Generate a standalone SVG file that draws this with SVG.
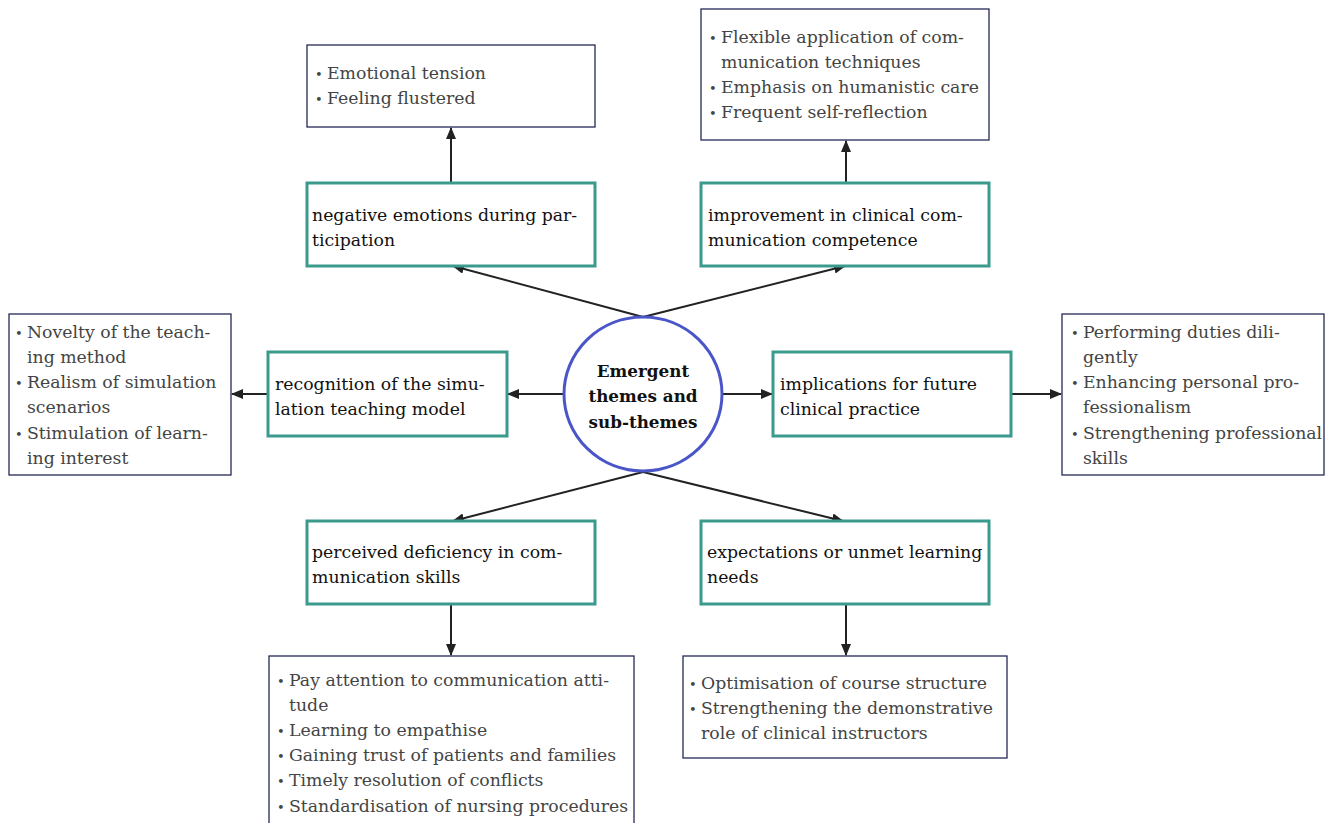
<svg xmlns="http://www.w3.org/2000/svg" width="1328" height="823" viewBox="0 0 1328 823">
<style>
.theme{fill:#fff;stroke:#3a9a8c;stroke-width:3}
.sub{fill:#fff;stroke:#262a55;stroke-width:1.3}
.tt{font-family:"DejaVu Serif","Liberation Serif",serif;font-size:17.3px;fill:#111}
.st{font-family:"DejaVu Serif","Liberation Serif",serif;font-size:17.3px;fill:#444}
.bu{font-size:13px}
.ct{font-family:"DejaVu Serif","Liberation Serif",serif;font-size:16.8px;font-weight:bold;fill:#111;text-anchor:middle}
.ln{stroke:#222;stroke-width:2;fill:none;marker-end:url(#ah)}
</style>
<defs>
<marker id="ah" markerUnits="userSpaceOnUse" markerWidth="12" markerHeight="10" refX="11" refY="5" orient="auto">
<path d="M0,0 L12,5 L0,10 z" fill="#222"/>
</marker>
</defs>
<rect width="1328" height="823" fill="#fff"/>
<g id="connectors">
<line class="ln" x1="643" y1="317" x2="453" y2="266"/>
<line class="ln" x1="643" y1="317" x2="845" y2="266"/>
<line class="ln" x1="564" y1="394" x2="508" y2="394"/>
<line class="ln" x1="722" y1="394" x2="772" y2="394"/>
<line class="ln" x1="643" y1="472" x2="453" y2="521"/>
<line class="ln" x1="643" y1="472" x2="843" y2="521"/>
<line class="ln" x1="451" y1="183" x2="451" y2="128"/>
<line class="ln" x1="846" y1="183" x2="846" y2="141"/>
<line class="ln" x1="268" y1="394" x2="232" y2="394"/>
<line class="ln" x1="1011" y1="394" x2="1061" y2="394"/>
<line class="ln" x1="451" y1="604" x2="451" y2="655"/>
<line class="ln" x1="846" y1="604" x2="846" y2="655"/>
</g>
<g id="center">
<ellipse cx="643" cy="394" rx="79" ry="77" fill="#fff" stroke="#4a56c8" stroke-width="3"/>
<text class="ct" x="643" y="377">Emergent</text>
<text class="ct" x="643" y="402">themes and</text>
<text class="ct" x="643" y="428">sub-themes</text>
</g>
<g id="theme-negative">
<rect class="theme" x="307" y="183" width="288" height="83"/>
<text class="tt" x="312" y="221">negative emotions during par-</text>
<text class="tt" x="312" y="246">ticipation</text>
</g>
<g id="theme-improvement">
<rect class="theme" x="701" y="183" width="288" height="83"/>
<text class="tt" x="708" y="221">improvement in clinical com-</text>
<text class="tt" x="708" y="246">munication competence</text>
</g>
<g id="theme-recognition">
<rect class="theme" x="268" y="352" width="239" height="84"/>
<text class="tt" x="275" y="390">recognition of the simu-</text>
<text class="tt" x="275" y="415">lation teaching model</text>
</g>
<g id="theme-implications">
<rect class="theme" x="773" y="352" width="238" height="84"/>
<text class="tt" x="780" y="390">implications for future</text>
<text class="tt" x="780" y="415">clinical practice</text>
</g>
<g id="theme-deficiency">
<rect class="theme" x="307" y="521" width="288" height="83"/>
<text class="tt" x="312" y="558">perceived deficiency in com-</text>
<text class="tt" x="312" y="583">munication skills</text>
</g>
<g id="theme-expectations">
<rect class="theme" x="701" y="521" width="288" height="83"/>
<text class="tt" x="707" y="558">expectations or unmet learning</text>
<text class="tt" x="707" y="583">needs</text>
</g>
<g id="sub-negative">
<rect class="sub" x="307" y="45" width="288" height="82"/>
<text class="st" x="315" y="79"><tspan class="bu">•</tspan><tspan x="327">Emotional tension</tspan></text>
<text class="st" x="315" y="104"><tspan class="bu">•</tspan><tspan x="327">Feeling flustered</tspan></text>
</g>
<g id="sub-improvement">
<rect class="sub" x="701" y="9" width="288" height="131"/>
<text class="st" x="709" y="43"><tspan class="bu">•</tspan><tspan x="721">Flexible application of com-</tspan></text>
<text class="st" x="721" y="68">munication techniques</text>
<text class="st" x="709" y="93"><tspan class="bu">•</tspan><tspan x="721">Emphasis on humanistic care</tspan></text>
<text class="st" x="709" y="118"><tspan class="bu">•</tspan><tspan x="721">Frequent self-reflection</tspan></text>
</g>
<g id="sub-recognition">
<rect class="sub" x="9" y="314" width="222" height="161"/>
<text class="st" x="15" y="338"><tspan class="bu">•</tspan><tspan x="27">Novelty of the teach-</tspan></text>
<text class="st" x="27" y="363">ing method</text>
<text class="st" x="15" y="388"><tspan class="bu">•</tspan><tspan x="27">Realism of simulation</tspan></text>
<text class="st" x="27" y="413">scenarios</text>
<text class="st" x="15" y="439"><tspan class="bu">•</tspan><tspan x="27">Stimulation of learn-</tspan></text>
<text class="st" x="27" y="464">ing interest</text>
</g>
<g id="sub-implications">
<rect class="sub" x="1062" y="314" width="262" height="161"/>
<text class="st" x="1071" y="338"><tspan class="bu">•</tspan><tspan x="1083">Performing duties dili-</tspan></text>
<text class="st" x="1083" y="363">gently</text>
<text class="st" x="1071" y="388"><tspan class="bu">•</tspan><tspan x="1083">Enhancing personal pro-</tspan></text>
<text class="st" x="1083" y="413">fessionalism</text>
<text class="st" x="1071" y="439"><tspan class="bu">•</tspan><tspan x="1083">Strengthening professional</tspan></text>
<text class="st" x="1083" y="464">skills</text>
</g>
<g id="sub-deficiency">
<rect class="sub" x="269" y="656" width="365" height="180"/>
<text class="st" x="277" y="686"><tspan class="bu">•</tspan><tspan x="289">Pay attention to communication atti-</tspan></text>
<text class="st" x="289" y="711">tude</text>
<text class="st" x="277" y="736"><tspan class="bu">•</tspan><tspan x="289">Learning to empathise</tspan></text>
<text class="st" x="277" y="761"><tspan class="bu">•</tspan><tspan x="289">Gaining trust of patients and families</tspan></text>
<text class="st" x="277" y="786"><tspan class="bu">•</tspan><tspan x="289">Timely resolution of conflicts</tspan></text>
<text class="st" x="277" y="812"><tspan class="bu">•</tspan><tspan x="289">Standardisation of nursing procedures</tspan></text>
</g>
<g id="sub-expectations">
<rect class="sub" x="683" y="656" width="324" height="102"/>
<text class="st" x="689" y="689"><tspan class="bu">•</tspan><tspan x="701">Optimisation of course structure</tspan></text>
<text class="st" x="689" y="714"><tspan class="bu">•</tspan><tspan x="701">Strengthening the demonstrative</tspan></text>
<text class="st" x="701" y="739">role of clinical instructors</text>
</g>
</svg>
